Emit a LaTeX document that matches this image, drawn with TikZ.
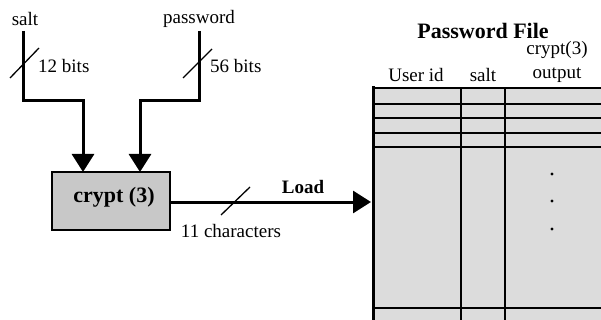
\documentclass[tikz,border=0pt]{standalone}
\usepackage{fontspec}
\setmainfont{Liberation Serif}
\usetikzlibrary{arrows.meta}
\definecolor{boxgray}{RGB}{200,200,200}
\definecolor{tablegray}{RGB}{220,220,220}
\tikzset{
  lbl/.style={inner sep=0pt, font=\fontsize{19}{21}\selectfont},
  blbl/.style={inner sep=0pt, font=\fontsize{22}{24}\selectfont\bfseries},
  wire/.style={line width=3pt},
  arr/.style={wire, -{Triangle[length=18pt,width=22pt]}},
  slashmark/.style={line width=1.3pt},
  tline/.style={line width=1.5pt},
}
\begin{document}
\begin{tikzpicture}[x=1pt,y=-1pt]
\useasboundingbox (0,0) rectangle (601,320);
% table
\begin{scope}
\clip (0,0) rectangle (601,320);
\fill[tablegray] (373,88) rectangle (610,330);
\foreach \yy in {88,104,118,133,147,308}
  \draw[tline] (373,\yy) -- (610,\yy);
\draw[tline] (461,88) -- (461,330);
\draw[tline] (505,88) -- (505,330);
\draw[line width=3pt] (373,86.5) -- (373,330);
\end{scope}
\foreach \yy in {174,201,229}
  \fill (552,\yy) circle (1.6);
\node[blbl] (ptitle) at (483,31) {Password File};
\node[lbl] (hcrypt) at (557,50) {crypt(3)};
\node[lbl] (hout) at (557,75) {output};
\node[lbl] (huid) at (416,75) {User id};
\node[lbl] (hsalt) at (483,75) {salt};
\coordinate (tablein) at (371,202);
% crypt box
\node[draw, line width=2pt, fill=boxgray, minimum width=118pt, minimum height=58pt, inner sep=0pt] (crypt) at (111,201) {};
\node[blbl] (cryptlbl) at (114,197) {crypt (3)};
% inputs
\node[lbl] (salt) at (25,19) {salt};
\node[lbl] (pw) at (199,19) {password};
\coordinate (saltin) at (83,172);
\coordinate (pwin) at (140,172);
\draw[arr] (23,31) -- (23,101) -- (83,101) -- (saltin);
\draw[arr] (199,31) -- (199,101) -- (140,101) -- (pwin);
\draw[slashmark] (10,78) -- (39,48);
\draw[slashmark] (183,78) -- (212,49);
\node[lbl, anchor=west] (b12) at (38,66) {12 bits};
\node[lbl, anchor=west] (b56) at (210,66) {56 bits};
% output
\draw[arr] (crypt.east |- 0,202) -- (tablein);
\draw[slashmark] (221,215) -- (250,187);
\node[blbl, font=\fontsize{19}{21}\selectfont\bfseries] (load) at (303,187) {Load};
\node[lbl] (chars) at (231,231) {11 characters};
\end{tikzpicture}
\end{document}
